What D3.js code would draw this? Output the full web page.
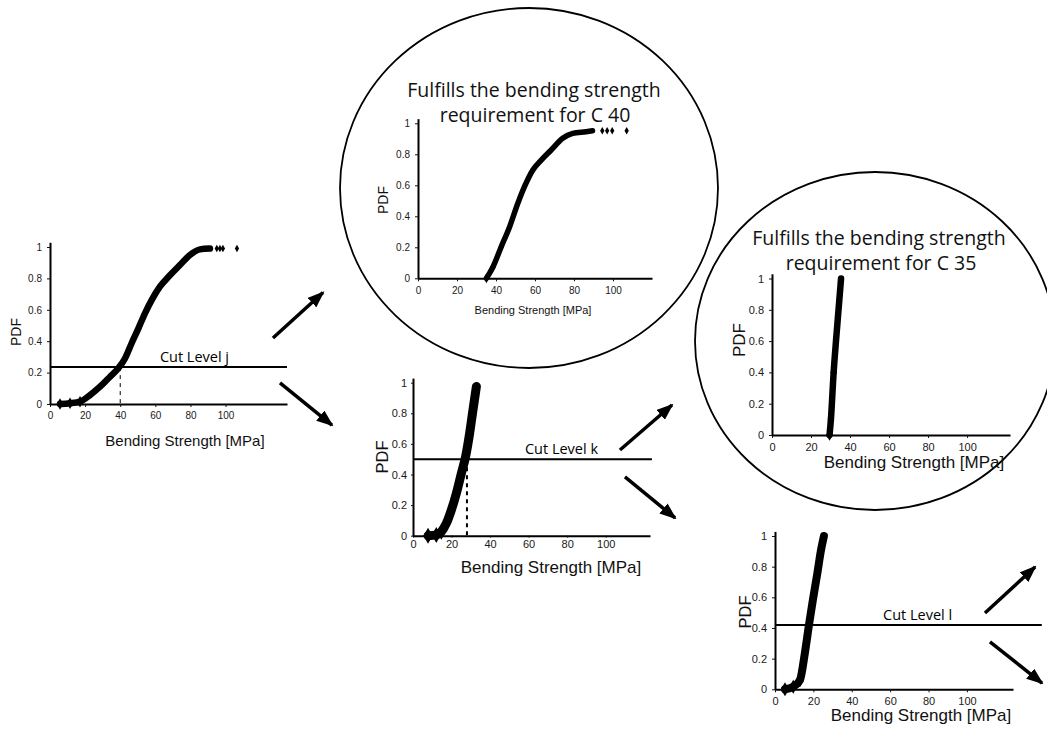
<!DOCTYPE html>
<html>
<head>
<meta charset="utf-8">
<script src="https://cdn.jsdelivr.net/npm/d3@7"></script>
<style>
  body { margin: 0; background: #fff; }
  svg { display: block; }
  .tick text { font-family: "Liberation Sans", Arial, sans-serif; fill: #1a1a1a; }
  .tick line { stroke: #111; }
  .domain { stroke: #000; stroke-width: 2; }
</style>
</head>
<body>
<svg id="drawing"></svg>
<script>
const xTicks = [0, 20, 40, 60, 80, 100];
const yTicks = [0, 0.2, 0.4, 0.6, 0.8, 1];

// whole sample, cut level j
const strengthJ = [5.7, 11.4, 17.1, 22.8, 28.5, 34.2, 38.9, 42.7, 46.5, 50.3, 54.1, 57.9, 62.6, 68.3, 74, 79.7, 85.4, 91.1];
const pdfJ = [0, 0.005, 0.015, 0.057, 0.11, 0.174, 0.227, 0.29, 0.387, 0.48, 0.578, 0.662, 0.747, 0.82, 0.885, 0.949, 0.985, 0.99];
const tailStrengthJ = [95, 96.8, 98.5, 106.5];
const tailPdfJ = [0.99, 0.99, 0.99, 0.99];
const cutJ = 0.235;

// above cut level j -> C 40
const strengthC40 = [35.1, 38.5, 42.7, 47, 51.2, 54.6, 58.9, 63.2, 68.3, 74.2, 79.3, 86.2, 89.5];
const pdfC40 = [0, 0.075, 0.204, 0.333, 0.484, 0.591, 0.699, 0.763, 0.828, 0.903, 0.935, 0.946, 0.952];
const tailStrengthC40 = [94.5, 97, 99.6, 107];
const tailPdfC40 = [0.952, 0.952, 0.952, 0.952];

// below cut level j, cut level k
const strengthK = [7.8, 12.1, 14.7, 17.3, 19.9, 22.5, 25.1, 27.3, 29.4, 31.1, 32.9];
const pdfK = [0, 0.005, 0.026, 0.08, 0.168, 0.277, 0.408, 0.517, 0.67, 0.82, 0.975];
const cutK = 0.5;

// above cut level k -> C 35
const strengthC35 = [29.5, 30.2, 31.6, 32.8, 34.1, 35.4];
const pdfC35 = [0, 0.1, 0.4, 0.6, 0.8, 1.0];

// below cut level k, cut level l
const strengthL = [5.2, 9.5, 13, 15.6, 17.7, 19.7, 22.1, 24, 25.5];
const pdfL = [0, 0.017, 0.06, 0.24, 0.42, 0.58, 0.76, 0.91, 1.0];
const cutL = 0.42;

const svg = d3.select('#drawing')
    .attr('width', 1047)
    .attr('height', 734);

svg.append('defs').append('marker')
    .attr('id', 'head')
    .attr('markerUnits', 'userSpaceOnUse')
    .attr('markerWidth', 17)
    .attr('markerHeight', 13)
    .attr('refX', 15)
    .attr('refY', 6.5)
    .attr('orient', 'auto')
  .append('path')
    .attr('d', 'M0,0 L17,6.5 L0,13 Z')
    .attr('fill', '#000');

class PdfPanel {
    constructor( config, data ) {
        this.config = config;
        this.data = data;
        this.init();
        this.render();
    }

    init() {
        let self = this;
        const c = self.config;
        self.chart = svg.append('g');

        self.xscale = d3.scaleLinear()
            .domain([0, c.xmax])
            .range([c.left, c.right]);

        self.yscale = d3.scaleLinear()
            .domain([0, 1.03])
            .range([c.bottom, c.bottom - 1.03 * c.height]);

        self.xaxis = d3.axisBottom( self.xscale )
            .tickValues(xTicks)
            .tickSizeInner(c.tickSize)
            .tickSizeOuter(0)
            .tickPadding(c.xPad);

        self.yaxis = d3.axisLeft( self.yscale )
            .tickValues(yTicks)
            .tickFormat(d => d)
            .tickSizeInner(c.tickSize)
            .tickSizeOuter(0)
            .tickPadding(c.yPad);
    }

    render() {
        let self = this;
        const c = self.config;
        const x = self.xscale, y = self.yscale;

        if (c.ellipse) {
            svg.insert('ellipse', ':first-child')
                .attr('cx', c.ellipse.cx)
                .attr('cy', c.ellipse.cy)
                .attr('rx', c.ellipse.rx)
                .attr('ry', c.ellipse.ry)
                .attr('fill', 'none')
                .attr('stroke', '#000')
                .attr('stroke-width', 1.8);
        }

        self.chart.append('g')
            .attr('transform', `translate(0, ${c.bottom})`)
            .call( self.xaxis )
            .selectAll('text')
            .style('font-size', c.tickFont + 'px');

        self.chart.append('g')
            .attr('transform', `translate(${c.left}, 0)`)
            .call( self.yaxis )
            .selectAll('text')
            .style('font-size', c.tickFont + 'px');

        if (c.cut !== undefined) {
            self.chart.append('line')
                .attr('x1', x(0)).attr('x2', x(c.cutEnd))
                .attr('y1', y(c.cut)).attr('y2', y(c.cut))
                .attr('stroke', '#000')
                .attr('stroke-width', 2);

            self.chart.append('text')
                .attr('x', x(c.cutLabelAt))
                .attr('y', y(c.cut) - 5)
                .style('font-family', '"Open Sans", sans-serif')
                .style('font-size', '14.5px')
                .text(c.cutLabel);
        }

        if (c.dashAt !== undefined) {
            self.chart.append('line')
                .attr('x1', x(c.dashAt)).attr('x2', x(c.dashAt))
                .attr('y1', y(c.cut)).attr('y2', y(0))
                .attr('stroke', '#000')
                .attr('stroke-width', c.dashWidth)
                .attr('stroke-dasharray', '4,4');
        }

        const line = d3.line()
            .x(d => x(d[0]))
            .y(d => y(d[1]))
            .curve(d3.curveMonotoneX);

        const pts = self.data.strength.map((s, i) => [s, self.data.pdf[i]]);
        self.chart.append('path')
            .datum(pts)
            .attr('d', line)
            .attr('fill', 'none')
            .attr('stroke', '#000')
            .attr('stroke-width', c.lineWidth)
            .attr('stroke-linecap', 'round')
            .attr('stroke-linejoin', 'round');

        // first few measurements show as single diamonds near the axis
        self.chart.selectAll('path.dot')
            .data(pts.slice(0, 3))
            .enter()
            .append('path')
            .attr('class', 'dot')
            .attr('transform', d => `translate(${x(d[0])}, ${y(d[1])})`)
            .attr('d', d3.symbol(d3.symbolDiamond, c.lineWidth * c.lineWidth * 0.9))
            .attr('fill', '#000');

        if (self.data.tailStrength) {
            const tail = self.data.tailStrength.map((s, i) => [s, self.data.tailPdf[i]]);
            self.chart.selectAll('path.tail')
                .data(tail)
                .enter()
                .append('path')
                .attr('class', 'tail')
                .attr('transform', d => `translate(${x(d[0])}, ${y(d[1])})`)
                .attr('d', d3.symbol(d3.symbolDiamond, 16))
                .attr('fill', '#000');
        }

        self.chart.append('text')
            .attr('x', c.xTitle[0])
            .attr('y', c.xTitle[1])
            .attr('text-anchor', 'middle')
            .style('font-family', '"Liberation Sans", Arial, sans-serif')
            .style('font-size', c.xTitleFont + 'px')
            .style('fill', '#111')
            .text('Bending Strength [MPa]');

        self.chart.append('text')
            .attr('transform', `translate(${c.pdf[0]}, ${c.pdf[1]}) rotate(-90)`)
            .attr('text-anchor', 'middle')
            .attr('dy', '0.35em')
            .style('font-family', '"Liberation Sans", Arial, sans-serif')
            .style('font-size', c.pdfFont + 'px')
            .style('fill', '#111')
            .text('PDF');

        if (c.title) {
            c.title.forEach(t => {
                self.chart.append('text')
                    .attr('x', t.x)
                    .attr('y', t.y)
                    .attr('text-anchor', 'middle')
                    .style('font-family', '"Open Sans", sans-serif')
                    .style('font-size', '19.5px')
                    .style('fill', '#111')
                    .text(t.text);
            });
        }

        if (c.arrows) {
            self.chart.selectAll('line.arrow')
                .data(c.arrows)
                .enter()
                .append('line')
                .attr('class', 'arrow')
                .attr('x1', d => x(d[0])).attr('y1', d => y(d[1]))
                .attr('x2', d => x(d[2])).attr('y2', d => y(d[3]))
                .attr('stroke', '#000')
                .attr('stroke-width', 3.5)
                .attr('marker-end', 'url(#head)');
        }
    }
}

new PdfPanel({
    left: 50, right: 287, bottom: 404, height: 157, xmax: 135,
    tickSize: 3, xPad: 5, yPad: 5, tickFont: 10,
    xTitle: [185, 446], xTitleFont: 15,
    pdf: [16, 332], pdfFont: 14,
    cut: cutJ, cutEnd: 135, cutLabel: 'Cut Level j', cutLabelAt: 62.6,
    dashAt: 40, dashWidth: 1,
    lineWidth: 6.5,
    arrows: [[127, 0.42, 155.5, 0.71], [131, 0.134, 160.6, -0.134]]
}, { strength: strengthJ, pdf: pdfJ, tailStrength: tailStrengthJ, tailPdf: tailPdfJ });

new PdfPanel({
    left: 418, right: 652, bottom: 278.3, height: 155, xmax: 120,
    tickSize: 3, xPad: 6, yPad: 5, tickFont: 10,
    xTitle: [533, 314], xTitleFont: 11,
    pdf: [383, 200], pdfFont: 14,
    lineWidth: 5.5,
    ellipse: { cx: 529, cy: 188, rx: 189, ry: 180 },
    title: [
        { text: 'Fulfills the bending strength', x: 534, y: 97 },
        { text: 'requirement for C 40', x: 535, y: 122 }
    ]
}, { strength: strengthC40, pdf: pdfC40, tailStrength: tailStrengthC40, tailPdf: tailPdfC40 });

new PdfPanel({
    left: 413, right: 650, bottom: 535.7, height: 153, xmax: 123,
    tickSize: 2, xPad: 3, yPad: 4, tickFont: 11,
    xTitle: [551, 573], xTitleFont: 17,
    pdf: [382, 457], pdfFont: 16.5,
    cut: cutK, cutEnd: 124, cutLabel: 'Cut Level k', cutLabelAt: 58.1,
    dashAt: 28, dashWidth: 2,
    lineWidth: 9,
    arrows: [[107.4, 0.56, 134.4, 0.854], [110, 0.384, 136, 0.116]]
}, { strength: strengthK, pdf: pdfK });

new PdfPanel({
    left: 772, right: 1010, bottom: 435, height: 156.5, xmax: 122,
    tickSize: 3, xPad: 5, yPad: 5, tickFont: 11,
    xTitle: [914, 468], xTitleFont: 17,
    pdf: [739, 340], pdfFont: 17,
    lineWidth: 6.5,
    ellipse: { cx: 875, cy: 341, rx: 180, ry: 169 },
    title: [
        { text: 'Fulfills the bending strength', x: 879, y: 245 },
        { text: 'requirement for C 35', x: 881, y: 270 }
    ]
}, { strength: strengthC35, pdf: pdfC35 });

new PdfPanel({
    left: 775, right: 1013, bottom: 689.3, height: 153.3, xmax: 124,
    tickSize: 3, xPad: 5, yPad: 5, tickFont: 11,
    xTitle: [921, 721], xTitleFont: 17,
    pdf: [745, 612], pdfFont: 16.5,
    cut: cutL, cutEnd: 139, cutLabel: 'Cut Level l', cutLabelAt: 56.3,
    lineWidth: 8,
    arrows: [[109.4, 0.498, 135.5, 0.798], [112, 0.309, 139.1, 0.041]]
}, { strength: strengthL, pdf: pdfL });
</script>
</body>
</html>
